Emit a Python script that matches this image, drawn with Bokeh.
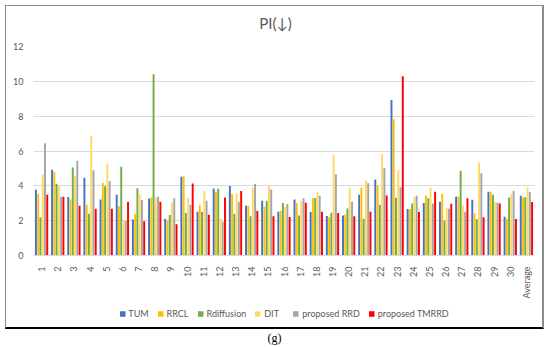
from bokeh.plotting import figure
from bokeh.models import (ColumnDataSource, FactorRange, Range1d, FixedTicker,
                          Legend, LegendItem, Div)
from bokeh.transform import dodge
from bokeh.layouts import column
from bokeh.embed import file_html
from bokeh.resources import INLINE

cats = [str(i) for i in range(1, 31)] + ["Average"]
TUM = [3.77, 4.92, 3.36, 4.46, 3.21, 3.49, 2.07, 3.27, 2.11, 4.52, 2.51, 3.85, 3.99, 2.86, 3.15, 2.51,
       3.22, 2.50, 2.27, 2.30, 3.49, 4.36, 8.93, 2.67, 3.01, 3.09, 3.37, 3.20, 3.66, 2.23, 3.43]
RRCL = [3.53, 4.80, 3.21, 2.91, 4.16, 2.83, 2.40, 3.33, 2.00, 4.55, 2.91, 3.66, 3.53, 2.86, 2.82, 2.55,
        3.01, 3.28, 2.19, 2.36, 3.90, 4.02, 7.83, 2.65, 3.45, 3.54, 3.39, 2.42, 3.66, 2.11, 3.35]
Rdiffusion = [2.19, 4.12, 5.05, 2.40, 3.97, 5.10, 3.86, 10.40, 2.32, 2.44, 2.51, 3.83, 2.40, 2.25, 3.15, 3.01,
              2.30, 3.30, 2.46, 2.70, 2.11, 2.91, 3.31, 2.99, 3.28, 2.00, 4.86, 2.08, 3.49, 3.33, 3.35]
DIT = [4.63, 4.02, 4.57, 6.85, 5.28, 2.02, 3.54, 3.33, 3.05, 3.30, 3.70, 2.15, 3.56, 3.87, 4.02, 2.80,
       3.16, 3.66, 5.79, 3.89, 4.34, 5.83, 4.91, 3.37, 3.90, 2.74, 2.86, 5.35, 3.07, 3.52, 3.92]
RRD = [6.45, 3.37, 5.44, 4.90, 4.28, 1.98, 3.18, 3.37, 3.28, 2.91, 3.14, 1.94, 3.09, 4.10, 3.79, 2.95,
       3.28, 3.43, 4.67, 3.09, 4.15, 5.03, 3.92, 3.43, 2.99, 2.69, 2.51, 4.72, 3.03, 3.70, 3.64]
TMRRD = [3.49, 3.37, 2.85, 2.68, 2.68, 3.09, 1.97, 3.09, 1.79, 4.13, 2.34, 3.33, 3.71, 2.55, 2.25, 2.21,
         3.03, 2.51, 2.44, 2.25, 2.51, 3.45, 10.29, 2.50, 3.66, 2.97, 3.28, 2.19, 2.99, 2.10, 3.07]

series_names = ["TUM", "RRCL", "Rdiffusion", "DIT", "proposed RRD", "proposed TMRRD"]
series_keys = ["TUM", "RRCL", "Rdiffusion", "DIT", "RRD", "TMRRD"]
colors = ["#4472C4", "#FFC000", "#70AD47", "#FFD966", "#A5A5A5", "#FF0000"]
y_ticks = [0, 2, 4, 6, 8, 10, 12]
title_text = "PI(↓)"
caption_text = "(g)"

FRAME = "1.5px solid #8c8c8c"
FRAME_R = "2px solid #8c8c8c"

source = ColumnDataSource(dict(cat=cats, TUM=TUM, RRCL=RRCL, Rdiffusion=Rdiffusion,
                               DIT=DIT, RRD=RRD, TMRRD=TMRRD))

head = Div(text=('<div style="text-align:center;font-family:Lato;font-size:15px;'
                 'line-height:34px;color:#595959;width:539px;">' + title_text + '</div>'),
           width=539, height=31, margin=(5, 0, 0, 5))
head.styles = {"border-left": FRAME, "border-top": FRAME, "border-right": FRAME_R,
               "overflow": "hidden"}

p = figure(x_range=FactorRange(*cats), y_range=Range1d(0, 12), width=539, height=265,
           output_backend="svg", toolbar_location=None,
           min_border_left=27, min_border_right=11, min_border_top=10, min_border_bottom=38,
           margin=(0, 0, 0, 5))
p.styles = {"border-left": FRAME, "border-right": FRAME_R}

p.outline_line_color = None
p.xgrid.grid_line_color = None
p.ygrid.grid_line_color = "#D9D9D9"
p.ygrid.grid_line_width = 1

p.yaxis.ticker = FixedTicker(ticks=y_ticks)
p.yaxis.axis_line_color = None
p.yaxis.major_tick_line_color = None
p.yaxis.minor_tick_line_color = None
p.yaxis.major_label_text_font = "Lato"
p.yaxis.major_label_text_font_size = "9px"
p.yaxis.major_label_text_color = "#595959"
p.yaxis.major_label_standoff = 4

p.xaxis.axis_line_color = "#D9D9D9"
p.xaxis.major_tick_line_color = None
p.xaxis.minor_tick_line_color = None
p.xaxis.major_label_orientation = 3.14159265 / 2
p.xaxis.major_label_text_font = "Lato"
p.xaxis.major_label_text_font_size = "9px"
p.xaxis.major_label_text_color = "#595959"
p.xaxis.major_label_standoff = 5

step = 0.14
offsets = [(i - 2.5) * step for i in range(6)]
for key, col, off in zip(series_keys, colors, offsets):
    p.vbar(x=dodge("cat", off, range=p.x_range), top=key, width=0.12,
           source=source, fill_color=col, line_color=None)

# legend strip: its own small figure so the legend is not clipped; its renderers are
# hidden, only their legend swatches show
lg = figure(width=539, height=28, output_backend="svg", toolbar_location=None,
            x_range=FactorRange(*cats), y_range=Range1d(20, 21),
            min_border=0, margin=(0, 0, 0, 5))
lg.styles = {"border-left": FRAME, "border-right": FRAME_R,
             "border-bottom": "2px solid #000000"}
lg.axis.visible = False
lg.grid.visible = False
lg.outline_line_color = None
items = []
for key, name, col in zip(series_keys, series_names, colors):
    r = lg.vbar(x="cat", top=key, width=0.1, source=source, fill_color=col, line_color=None)
    r.visible = False
    items.append(LegendItem(label=name, renderers=[r]))

legend = Legend(items=items, orientation="horizontal", location="top_center")
legend.label_text_font = "Lato"
legend.label_text_font_size = "9px"
legend.label_text_color = "#595959"
legend.glyph_width = 7
legend.glyph_height = 7
legend.label_standoff = 3
legend.spacing = 8
legend.border_line_color = None
legend.background_fill_alpha = 0
legend.inactive_fill_alpha = 0
legend.margin = 7
legend.padding = 0
lg.add_layout(legend, "center")

cap = Div(text=('<div style="text-align:center;font-family:\'Liberation Serif\';font-size:12px;'
                'line-height:18px;color:#000;width:539px;">' + caption_text + '</div>'),
          width=539, height=18, margin=(0, 0, 0, 5))

layout = column(head, p, lg, cap, spacing=0)
open("out.html", "w").write(file_html(layout, INLINE))
